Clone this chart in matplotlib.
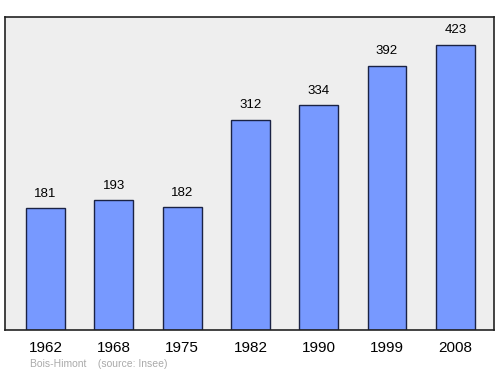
import matplotlib
matplotlib.use('Agg')
import matplotlib.pyplot as plt

years = ['1962', '1968', '1975', '1982', '1990', '1999', '2008']
population = [181, 193, 182, 312, 334, 392, 423]

fig = plt.figure(figsize=(5, 3.74), dpi=100)
ax = fig.add_axes([0.01, 0.1176, 0.978, 0.837])
ax.set_facecolor('#eeeeee')

x = range(len(years))
ax.bar(x, population, width=0.57, color='#7799ff', edgecolor='#1a2244', linewidth=1)
for i, v in zip(x, population):
    ax.text(i, v + 21, str(v), ha='center', va='center', fontsize=9.5,
            family='Liberation Sans')

ax.set_xlim(-0.593, 6.567)
ax.set_ylim(0, 464)
ax.set_yticks([])
ax.set_xticks(list(x))
ax.set_xticklabels(years, fontsize=11, family='Liberation Sans')
ax.tick_params(axis='x', length=0, pad=8)
for s in ax.spines.values():
    s.set_color('#222222')
    s.set_linewidth(1.2)

fig.text(0.06, 0.027, 'Bois-Himont    (source: Insee)', fontsize=7.5,
         color='#aaaaaa', family='Liberation Sans', va='center')

fig.savefig('out.png', dpi=100)
